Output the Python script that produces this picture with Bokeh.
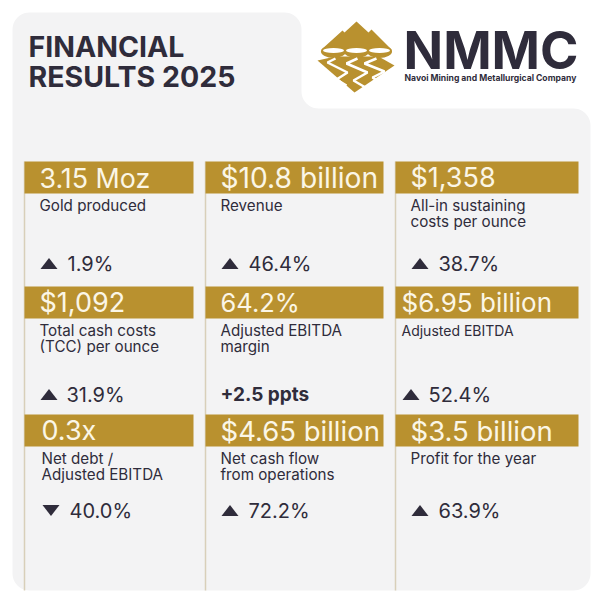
import math
from bokeh.core.properties import value
from bokeh.plotting import figure
from bokeh.embed import file_html
from bokeh.resources import INLINE

# ---- content ----
title_lines = ["FINANCIAL", "RESULTS 2025"]
logo_name = "NMMC"
logo_sub = "Navoi Mining and Metallurgical Company"
headlines = ["3.15 Moz", "$10.8 billion", "$1,358",
             "$1,092", "64.2%", "$6.95 billion",
             "0.3x", "$4.65 billion", "$3.5 billion"]
descriptions = [["Gold produced"], ["Revenue"], ["All-in sustaining", "costs per ounce"],
                ["Total cash costs", "(TCC) per ounce"], ["Adjusted EBITDA", "margin"], ["Adjusted EBITDA"],
                ["Net debt /", "Adjusted EBITDA"], ["Net cash flow", "from operations"], ["Profit for the year"]]
changes = ["1.9%", "46.4%", "38.7%",
           "31.9%", "+2.5 ppts", "52.4%",
           "40.0%", "72.2%", "63.9%"]
directions = ["up", "up", "up", "up", None, "up", "down", "up", "up"]

# ---- layout (reference pixels) ----
DARK, GOLD, PANEL, RULE = "#2f2c3b", "#b9912f", "#f3f3f4", "#d8cfb9"
col_left = [24, 205, 395]
col_right = [193, 383, 578]
row_top = [161, 286, 414]
bar_h = 32
indent = [[40, 221, 411], [40, 221, 402], [42, 221, 411]]
change_y = [263, 394, 510]
change_gap = [28, 27, 28]
headline_sizes = [26.8, 28.2, 27, 27, 25.5, 26, 27, 27.5, 27.5]
description_sizes = [15.2, 15.2, 15.2, 15.2, 15.2, 14, 15.2, 15.2, 15.2]

p = figure(width=594, height=594, x_range=(0, 594), y_range=(594, 0),
           output_backend="svg", toolbar_location=None, min_border=0)
p.axis.visible = False
p.grid.visible = False
p.outline_line_color = None
p.background_fill_color = "white"
p.border_fill_color = "white"


def arc(cx, cy, r, a0, a1, n=12):
    return [(cx + r * math.cos(math.radians(a0 + (a1 - a0) * i / n)),
             cy + r * math.sin(math.radians(a0 + (a1 - a0) * i / n))) for i in range(n + 1)]


def text(x, y, s, size, color=DARK, font="Inter", style="normal", align="left"):
    p.text([x - 1], [y], text=[s], text_font=value(font), text_font_size=f"{size}px", text_color=color,
           text_font_style=style, text_baseline="middle", text_align=align)


def poly(pts, color=GOLD):
    p.patch([a for a, _ in pts], [b for _, b in pts], fill_color=color, line_color=None)


# background panel
R = 17
outline = (arc(12 + R, 12 + R, R, 180, 270) + arc(301 - R, 12 + R, R, 270, 360)
           + arc(301 + R, 108 - R, R, 180, 90) + arc(590 - R, 108 + R, R, 270, 360)
           + arc(590 - R, 590 - R, R, 0, 90) + arc(12 + R, 590 - R, R, 90, 180))
poly(outline, PANEL)

# title
text(29, 46, title_lines[0], 28.5, style="bold")
text(29, 76, title_lines[1], 28.5, style="bold")

# logo
poly([(321, 49), (342, 30), (344, 32), (356, 21), (368, 32), (371, 29), (391, 49), (391, 52), (321, 52)])
poly([(317, 60), (335, 56), (378, 56), (394, 65), (354, 92)])
for cx in (333, 356, 379):
    p.ellipse([cx], [51], width=25, height=13, fill_color=GOLD, line_color=None)
    p.ellipse([cx], [50], width=21, height=5, fill_color="white", line_color=None)
for river in ([(335, 58), (327, 62), (347, 72), (336, 79), (346, 85)],
              [(357, 58), (346, 63), (367, 72), (353, 80), (365, 87)],
              [(376, 58), (364, 63), (384, 71), (372, 77), (378, 81)]):
    p.line([a for a, _ in river], [b for _, b in river], line_color="white", line_width=2.5)
text(404, 50, logo_name, 52, style="bold")
text(405, 77, logo_sub, 8.6, style="bold")

# cards
for c in range(3):
    p.segment([col_left[c]], [row_top[0]], [col_left[c]], [590], line_color=RULE, line_width=1.5)
for r in range(3):
    for c in range(3):
        i = r * 3 + c
        x = indent[r][c]
        top = row_top[r]
        p.quad(left=[col_left[c]], right=[col_right[c]], top=[top], bottom=[top + bar_h],
               fill_color=GOLD, line_color=None)
        text(x, top + 16, headlines[i], headline_sizes[i], color="#fbf6e6")
        for k, line in enumerate(descriptions[i]):
            text(x, top + 44 + k * 16, line, description_sizes[i])
        y = change_y[r]
        if directions[i] is None:
            text(x, y, changes[i], 19, style="bold")
        else:
            s = 1 if directions[i] == "down" else -1
            poly([(x, y - s * 5.5), (x + 17, y - s * 5.5), (x + 8.5, y + s * 5.5)], DARK)
            text(x + change_gap[r], y, changes[i], 20)

open("out.html", "w").write(file_html(p, INLINE))
